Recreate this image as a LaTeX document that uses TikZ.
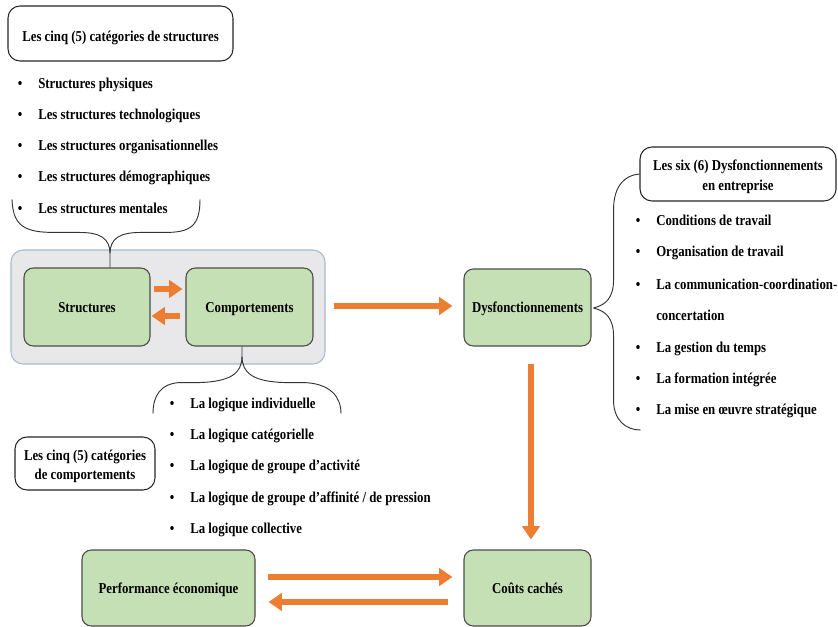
\documentclass[tikz,border=0pt]{standalone}
\usepackage{fontspec}
\setmainfont{Liberation Serif}[FakeStretch=0.85]
\usetikzlibrary{arrows.meta,calc}
\definecolor{boxgreen}{HTML}{C5E0B4}
\definecolor{arr}{HTML}{ED7D31}
\definecolor{cont}{HTML}{E8E8EA}
\definecolor{contb}{HTML}{A9B9CF}
\begin{document}
\begin{tikzpicture}[x=0.75pt,y=-0.75pt,
  font=\fontsize{11.3pt}{14.6pt}\selectfont\bfseries,
  greenbox/.style={draw=black!70, line width=0.8pt, fill=boxgreen, rounded corners=7pt, inner sep=0pt, align=center, text height=8pt, text depth=0pt},
  whitebox/.style={draw=black!85, line width=0.8pt, fill=white, rounded corners=9pt, inner sep=0pt, align=center},
  oarrow/.style={draw=arr, line width=4.5pt, -{Triangle[length=10pt,width=13pt]}},
  brace/.style={draw=black!80, line width=0.7pt},
  item/.style={anchor=base west, inner sep=0pt},
  bul/.style={anchor=base, inner sep=0pt}]
\useasboundingbox (0,0) rectangle (838,627);

% container
\node[draw=contb, line width=0.8pt, fill=cont, rounded corners=9pt, minimum width=235.5pt, minimum height=85.5pt] (cont) at (168,307) {};

% main boxes
\node[greenbox, minimum width=94.5pt, minimum height=58.5pt] (s) at (87,307) {Structures};
\node[greenbox, minimum width=95.25pt, minimum height=58.5pt] (c) at (249.5,307) {Comportements};
\node[greenbox, minimum width=95.25pt, minimum height=57.75pt] (d) at (527.5,307.5) {Dysfonctionnements};
\node[greenbox, minimum width=95.25pt, minimum height=57pt] (co) at (527.5,588) {Coûts cachés};
\node[greenbox, minimum width=129.75pt, minimum height=57pt] (p) at (168.5,588) {Performance économique};

% title boxes
\node[whitebox, minimum width=168.75pt, minimum height=41.25pt, text height=12pt, text depth=0pt] (hs) at (120.5,33.5) {Les cinq (5) catégories de structures};
\node[whitebox, minimum width=105pt, minimum height=39.75pt] (hc) at (85,463.5) {\rule{0pt}{12pt}Les cinq (5) catégories\\de comportements};
\node[whitebox, minimum width=147pt, minimum height=40.5pt] (hd) at (738,174) {\rule{0pt}{12pt}Les six (6) Dysfonctionnements\\en entreprise};

% arrows
\draw[oarrow] ($(s.east)+(3,-18)$) -- ($(c.west)+(-3,-18)$);
\draw[oarrow] ($(c.west)+(-5,9)$) -- ($(s.east)+(1,9)$);
\draw[oarrow] ($(c.east)+(20,-1)$) -- ($(d.west)+(-11,-1.5)$);
\draw[oarrow] ($(d.south)+(3.5,17)$) -- ($(co.north)+(3.5,-10)$);
\draw[oarrow] ($(p.east)+(12,-11)$) -- ($(co.west)+(-11,-11)$);
\draw[oarrow] ($(co.west)+(-15,14)$) -- ($(p.east)+(13,14)$);

% top list
\node[bul] (bs1) at (20,89) {•}; \node[item] (ts1) at (38,89) {Structures physiques};
\node[bul] (bs2) at (20,120) {•}; \node[item] (ts2) at (38,120) {Les structures technologiques};
\node[bul] (bs3) at (20,151) {•}; \node[item] (ts3) at (38,151) {Les structures organisationnelles};
\node[bul] (bs4) at (20,182) {•}; \node[item] (ts4) at (38,182) {Les structures démographiques};
\node[bul] (bs5) at (20,214) {•}; \node[item] (ts5) at (38,214) {Les structures mentales};

% bottom list
\node[bul] (bc1) at (172,408) {•}; \node[item] (tc1) at (190,408) {La logique individuelle};
\node[bul] (bc2) at (172,439) {•}; \node[item] (tc2) at (190,439) {La logique catégorielle};
\node[bul] (bc3) at (172,470) {•}; \node[item] (tc3) at (190,470) {La logique de groupe d’activité};
\node[bul] (bc4) at (172,502) {•}; \node[item] (tc4) at (190,502) {La logique de groupe d’affinité / de pression};
\node[bul] (bc5) at (172,533) {•}; \node[item] (tc5) at (190,533) {La logique collective};

% right list
\node[bul] (bd1) at (638,226) {•}; \node[item] (td1) at (656,226) {Conditions de travail};
\node[bul] (bd2) at (638,257) {•}; \node[item] (td2) at (656,257) {Organisation de travail};
\node[bul] (bd3) at (638,289) {•}; \node[item] (td3) at (656,289) {La communication-coordination-};
\node[item] (td3b) at (656,320) {concertation};
\node[bul] (bd4) at (638,352) {•}; \node[item] (td4) at (656,352) {La gestion du temps};
\node[bul] (bd5) at (638,383) {•}; \node[item] (td5) at (656,383) {La formation intégrée};
\node[bul] (bd6) at (638,414) {•}; \node[item] (td6) at (656,414) {La mise en œuvre stratégique};

% braces
\coordinate (tj) at ($(s.north)+(23,-14)$);
\draw[brace] (s.north -| tj) -- (tj)
  .. controls ($(tj)+(0,-15)$) and ($(tj)+(-10,-21)$) .. ($(tj)+(-30,-21)$)
  -- ($(tj)+(-55,-21)$)
  .. controls ($(tj)+(-85,-21)$) and ($(tj)+(-97,-27)$) .. ($(tj)+(-98,-54)$);
\draw[brace] (tj)
  .. controls ($(tj)+(0,-15)$) and ($(tj)+(10,-21)$) .. ($(tj)+(30,-21)$)
  -- ($(tj)+(55,-21)$)
  .. controls ($(tj)+(80,-21)$) and ($(tj)+(90,-27)$) .. ($(tj)+(90,-54)$);

\coordinate (bj) at ($(c.south)+(-7.5,10)$);
\draw[brace] (c.south -| bj) -- (bj)
  .. controls ($(bj)+(0,17)$) and ($(bj)+(-12,25)$) .. ($(bj)+(-42,26)$)
  -- ($(bj)+(-62,26)$)
  .. controls ($(bj)+(-82,27)$) and ($(bj)+(-89,40)$) .. ($(bj)+(-89,57)$);
\draw[brace] (bj)
  .. controls ($(bj)+(0,17)$) and ($(bj)+(12,25)$) .. ($(bj)+(42,26)$)
  -- ($(bj)+(62,26)$)
  .. controls ($(bj)+(88,27)$) and ($(bj)+(99,40)$) .. ($(bj)+(99,57)$);

\coordinate (rj) at ($(d.east)+(2,0.5)$);
\draw[brace] (rj)
  .. controls ($(rj)+(12,-3)$) and ($(rj)+(20,-10)$) .. ($(rj)+(20,-28)$)
  -- ($(rj)+(20,-98)$)
  .. controls ($(rj)+(20,-123)$) and ($(rj)+(32,-133)$) .. (hd.west);
\draw[brace] (rj)
  .. controls ($(rj)+(12,3)$) and ($(rj)+(20,10)$) .. ($(rj)+(20,28)$)
  -- ($(rj)+(20,92)$)
  .. controls ($(rj)+(20,112)$) and ($(rj)+(32,122)$) .. ($(rj)+(47,122)$);
\end{tikzpicture}
\end{document}
